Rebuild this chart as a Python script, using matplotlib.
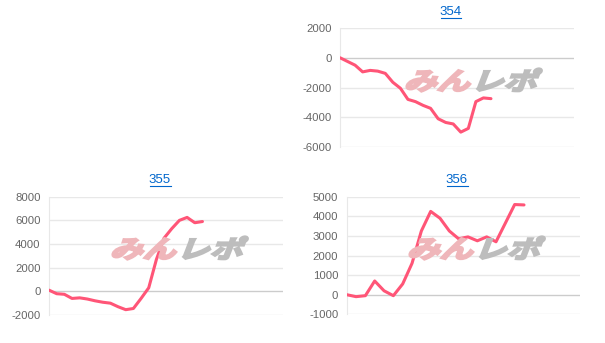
import numpy as np
import matplotlib
matplotlib.use("Agg")
import matplotlib.pyplot as plt
from matplotlib.textpath import TextPath
from matplotlib.patches import PathPatch
from matplotlib.font_manager import FontProperties
from matplotlib.transforms import Affine2D, IdentityTransform
from matplotlib.lines import Line2D

W, H = 605, 343

# data
titles = ["354", "355", "356"]
vals_354 = [0, -250, -500, -950, -850, -900, -1050, -1650, -2050, -2800, -2950,
            -3200, -3400, -4100, -4350, -4450, -5000, -4750, -2950, -2700, -2750]
vals_355 = [100, -200, -250, -600, -550, -650, -800, -920, -1000, -1300, -1550,
            -1450, -600, 300, 2700, 4500, 5300, 6000, 6250, 5800, 5900]
vals_356 = [0, -100, -50, 700, 200, -50, 550, 1600, 3250, 4250, 3900,
            3250, 2850, 2950, 2750, 2950, 2700, 3650, 4600, 4580]
yticks_354 = [-6000, -4000, -2000, 0, 2000]
yticks_355 = [-2000, 0, 2000, 4000, 6000, 8000]
yticks_356 = [-1000, 0, 1000, 2000, 3000, 4000, 5000]

LINE = "#ff5577"
GRID = "#e8e8e8"
ZERO = "#cccccc"
TICK = "#666666"
LINK = "#0066cc"

fig = plt.figure(figsize=(W / 100, H / 100), dpi=100)


def rect(l, r, top, bottom):
    return [l / W, 1 - bottom / H, (r - l) / W, (bottom - top) / H]


def logo(cx, cy):
    # watermark, pixel coords from top-left
    fp = FontProperties(family="Noto Sans CJK JP", weight="bold")
    size = 30
    p1 = TextPath((0, 0), "みん", size=size, prop=fp)
    p2 = TextPath((0, 0), "レポ", size=size, prop=fp)
    w1 = p1.get_extents().x1
    w2 = p2.get_extents().x1
    sx = 1.1
    total = (w1 + w2 + 2) * sx
    x0 = cx - total / 2
    y0 = H - cy - size * 0.36
    sk = Affine2D().skew_deg(16, 0).scale(sx, 0.82)
    for p, dx, col in [(p1, 0, "#efb6ba"), (p2, w1 + 2, "#bdbdbd")]:
        t = sk + Affine2D().translate(x0 + dx * sx, y0) + IdentityTransform()
        fig.patches.append(PathPatch(p, transform=t, facecolor=col,
                                     edgecolor=col, lw=1.6, zorder=0))


def title(text, cx, cy):
    fig.text(cx / W, 1 - cy / H, text, color=LINK, fontsize=9.5,
             family="Liberation Sans", ha="center", va="center")
    fig.lines.append(Line2D([(cx - 10.5) / W, (cx + 10.5) / W],
                            [1 - (cy + 6) / H, 1 - (cy + 6) / H],
                            transform=fig.transFigure, color=LINK, lw=0.8))


def chart(r, vals, yticks, xmax):
    ax = fig.add_axes(r)
    ax.patch.set_alpha(0)
    ax.plot(np.arange(len(vals)), vals, color=LINE, lw=2.2,
            solid_joinstyle="round", solid_capstyle="round", zorder=3)
    ax.set_xlim(0, xmax)
    ax.set_ylim(yticks[0], yticks[-1])
    ax.set_yticks(yticks)
    ax.set_yticklabels([str(v) for v in yticks], color=TICK, fontsize=8.2,
                       family="Liberation Sans")
    ax.set_xticks([])
    ax.tick_params(axis="y", length=0, pad=6)
    for v in yticks:
        ax.axhline(v, color=ZERO if v == 0 else GRID, lw=1, zorder=1)
    for s in ["top", "right", "bottom"]:
        ax.spines[s].set_visible(False)
    ax.spines["left"].set_color(GRID)
    return ax


logo(469, 79)
logo(175, 247)
logo(472, 247)

chart(rect(340, 574, 28, 147), vals_354, yticks_354, 31)
chart(rect(49, 283, 196.7, 315), vals_355, yticks_355, 30.5)
chart(rect(346.7, 580, 196.7, 314.3), vals_356, yticks_356, 25)

title(titles[0], 451, 12)
title(titles[1], 160, 180)
title(titles[2], 457, 180)

fig.savefig("out.png", dpi=100)
